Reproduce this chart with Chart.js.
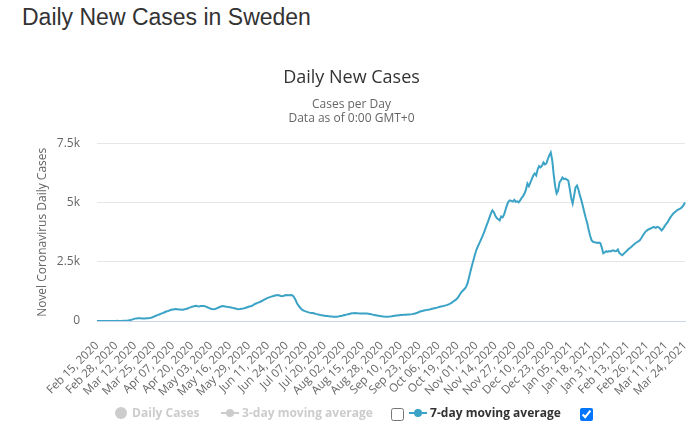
<!DOCTYPE html>
<html>
<head>
<meta charset="utf-8">
<script src="https://cdn.jsdelivr.net/npm/chart.js@4.4.1/dist/chart.umd.min.js"></script>
<style>
  html, body { margin: 0; padding: 0; background: #fff; }
  #wrap { position: relative; width: 700px; height: 441px; overflow: hidden; }
  h2 { position: absolute; left: 22px; top: 4px; margin: 0; font: 23px "Liberation Sans", Arial, sans-serif; color: #333; font-weight: normal; }
  canvas { position: absolute; left: 0; top: 0; }
  .item { position: absolute; top: 404px; height: 18px; line-height: 18px; white-space: nowrap; font: bold 12px "Open Sans", sans-serif; }
  .item svg { vertical-align: middle; margin-top: -2px; }
  .off { color: #ccc; }
  .on { color: #333; }
  input[type=checkbox] { position: absolute; margin: 0; width: 13px; height: 13px; }
</style>
</head>
<body>
<div id="wrap">
  <h2>Daily New Cases in Sweden</h2>
  <canvas id="chart" width="700" height="441"></canvas>
  <div class="item off" style="left:115px"><svg width="14" height="14"><circle cx="6" cy="7" r="6" fill="#ccc"/></svg> Daily Cases</div>
  <div class="item off" style="left:221px"><svg width="18" height="14"><line x1="0" y1="7" x2="18" y2="7" stroke="#ccc" stroke-width="2"/><circle cx="9" cy="7" r="4" fill="#ccc"/></svg> 3-day moving average</div>
  <input type="checkbox" style="left:391px; top:408px">
  <div class="item on" style="left:409px"><svg width="18" height="14"><line x1="0" y1="7" x2="18" y2="7" stroke="#3ba3c6" stroke-width="2"/><circle cx="9" cy="7" r="4" fill="#3ba3c6"/></svg> 7-day moving average</div>
  <input type="checkbox" checked style="left:580px; top:408px">
</div>
<script>
// 7-day moving average of daily new cases, one array per month
const feb2020 = [0,0,0,0,0,0,0,0,0,1,2,3,4,5,6]
const mar2020 = [2,3,5,7,10,14,20,28,40,60,80,100,110,112,115,112,108,110,108,112,115,125,140,160,185,210,235,260,285,310,330]
const apr2020 = [360,390,410,430,455,475,490,500,505,498,490,485,480,480,495,510,530,555,575,600,615,630,640,625,615,630,635,630,620,600]
const may2020 = [570,545,520,505,500,510,535,560,590,610,630,625,615,600,590,580,570,555,540,525,510,500,505,515,525,540,560,580,600,620,635]
const jun2020 = [670,710,740,765,790,815,845,880,915,950,980,1000,1020,1040,1060,1080,1090,1095,1080,1060,1050,1065,1085,1095,1090,1085,1100,1080,1010,900]
const jul2020 = [760,660,580,510,460,430,405,385,365,350,340,335,320,300,285,270,255,245,235,225,215,210,200,195,188,180,178,182,190,200,212]
const aug2020 = [225,240,255,270,285,300,315,325,330,335,330,325,322,320,318,316,315,315,305,295,285,270,258,245,232,220,210,200,192,186,182]
const sep2020 = [180,185,192,200,210,220,228,235,242,250,255,260,263,268,273,277,280,290,305,320,340,360,390,410,425,440,455,470,480,490]
const oct2020 = [505,520,535,550,565,585,600,615,630,645,660,680,705,735,770,815,860,900,960,1050,1150,1240,1300,1360,1450,1600,1850,2100,2350,2570,2800]
const nov2020 = [3000,3150,3285,3420,3560,3700,3870,4045,4200,4380,4550,4680,4600,4450,4350,4300,4255,4420,4380,4500,4700,4900,5050,5100,5080,5050,5120,5040,5060,5015]
const dec2020 = [5100,5200,5280,5390,5550,5815,5700,5850,6000,6150,6235,6150,6400,6550,6500,6570,6700,6620,6660,6850,7000,7120,6800,6200,5700,5390,5500,5860,5950,6065,6000]
const jan2021 = [6020,5980,5940,5600,5200,4970,5300,5650,5730,5550,5300,5100,4850,4600,4350,4130,3850,3600,3410,3350,3330,3320,3300,3320,3285,3100,2865,2900,2950,2920,2960]
const feb2021 = [2940,2970,2990,2950,2960,3020,2880,2820,2780,2840,2900,2960,3020,3075,3120,3180,3230,3290,3330,3370,3410,3500,3600,3700,3780,3830,3870,3900]
const mar2021 = [3930,3960,3970,3940,3980,3960,3900,3830,3900,4000,4100,4170,4280,4380,4470,4550,4600,4650,4700,4730,4760,4820,4900,5015]

const movingAvg7 = [].concat(feb2020, mar2020, apr2020, may2020, jun2020, jul2020, aug2020,
  sep2020, oct2020, nov2020, dec2020, jan2021, feb2021, mar2021)

// x axis shows every 13th day
const tickEvery = 13
const tickLabels = ["Feb 15, 2020","Feb 28, 2020","Mar 12, 2020","Mar 25, 2020","Apr 07, 2020","Apr 20, 2020",
  "May 03, 2020","May 16, 2020","May 29, 2020","Jun 11, 2020","Jun 24, 2020","Jul 07, 2020","Jul 20, 2020",
  "Aug 02, 2020","Aug 15, 2020","Aug 28, 2020","Sep 10, 2020","Sep 23, 2020","Oct 06, 2020","Oct 19, 2020",
  "Nov 01, 2020","Nov 14, 2020","Nov 27, 2020","Dec 10, 2020","Dec 23, 2020","Jan 05, 2021","Jan 18, 2021",
  "Jan 31, 2021","Feb 13, 2021","Feb 26, 2021","Mar 11, 2021","Mar 24, 2021"]
const yTicks = {0: "0", 2500: "2.5k", 5000: "5k", 7500: "7.5k"}

const months = ["Jan","Feb","Mar","Apr","May","Jun","Jul","Aug","Sep","Oct","Nov","Dec"]
const start = Date.UTC(2020, 1, 15)
const days = movingAvg7.map((v, i) => {
  const d = new Date(start + i * 86400000)
  return months[d.getUTCMonth()] + " " + String(d.getUTCDate()).padStart(2, "0") + ", " + d.getUTCFullYear()
})

const font = "'Open Sans', sans-serif"

new Chart(document.getElementById("chart"), {
  type: "line",
  data: {
    labels: days,
    datasets: [{
      label: "7-day moving average",
      data: movingAvg7,
      borderColor: "#3ba3c6",
      borderWidth: 2,
      pointRadius: 0,
      tension: 0,
      fill: false
    }]
  },
  options: {
    responsive: false,
    animation: false,
    layout: {padding: {top: 67, left: 18, right: 15, bottom: 0}},
    plugins: {
      legend: {display: false},
      tooltip: {enabled: false},
      title: {
        display: true,
        text: "Daily New Cases",
        color: "#333",
        font: {family: font, size: 18, weight: "normal", lineHeight: 1.2},
        padding: {top: 0, bottom: 9}
      },
      subtitle: {
        display: true,
        text: ["Cases per Day", "Data as of 0:00 GMT+0"],
        color: "#666",
        font: {family: font, size: 12, lineHeight: "14px"},
        padding: {top: 0, bottom: 18}
      }
    },
    scales: {
      x: {
        grid: {display: false},
        border: {color: "#ccd6eb"},
        afterFit: s => {
          s.height = 120
          s.paddingLeft = 0
          s.paddingRight = 0
        },
        ticks: {
          autoSkip: false,
          maxRotation: 45,
          minRotation: 45,
          padding: 10,
          color: "#666",
          font: {family: font, size: 11.5},
          callback: (v, i) => i % tickEvery === 0 ? tickLabels[i / tickEvery] : ""
        }
      },
      y: {
        min: 0,
        max: 7500,
        afterFit: s => { s.width = 79 },
        grid: {
          drawTicks: false,
          color: c => c.tick && c.tick.value === 0 ? "#ccd6eb" : "#e6e6e6"
        },
        border: {display: false},
        ticks: {
          stepSize: 2500,
          padding: 17,
          color: "#666",
          font: {family: font, size: 12},
          callback: v => yTicks[v]
        },
        title: {
          display: true,
          text: "Novel Coronavirus Daily Cases",
          color: "#666",
          font: {family: font, size: 12},
          padding: {top: 17, bottom: 0}
        }
      }
    }
  }
})
</script>
</body>
</html>
